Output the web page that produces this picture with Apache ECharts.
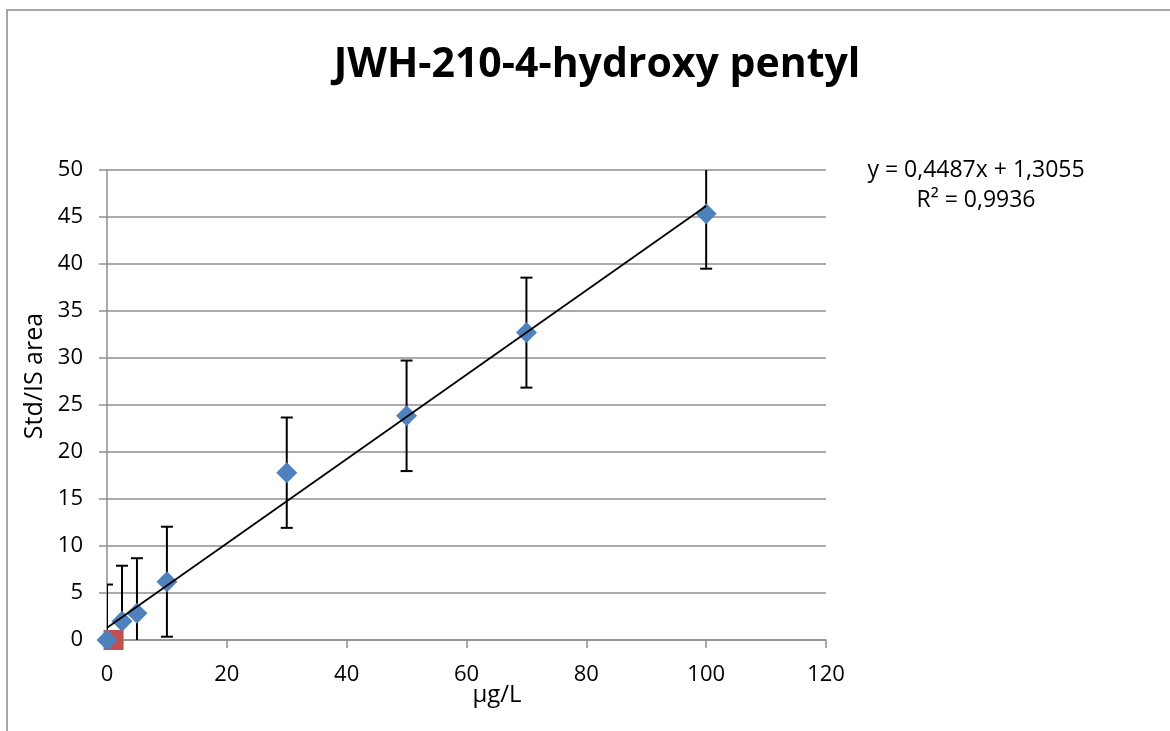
<!DOCTYPE html>
<html>
<head>
<meta charset="utf-8">
<title>JWH-210-4-hydroxy pentyl</title>
<script src="https://cdn.jsdelivr.net/npm/echarts@6/dist/echarts.min.js"></script>
<style>
  html, body { margin: 0; padding: 0; background: #fff; }
  #main { width: 1170px; height: 731px; }
</style>
</head>
<body>
<div id="main"></div>
<script>
  // concentration (µg/L) and Std/IS area ratio
  var concX = [0, 2.5, 5, 10, 30, 50, 70, 100];
  var ratioY = [0, 2.0, 2.85, 6.2, 17.8, 23.85, 32.7, 45.35];
  var errY = [5.9, 5.9, 5.85, 5.85, 5.87, 5.88, 5.85, 5.85];   // +/- error bar
  var blankPoint = [[1.1, 0]];                                  // red square
  // linear trendline endpoints (y = 0,4487x + 1,3055)
  var trendX = [0, 100];
  var trendY = [1.31, 46.18];
  var xTicks = [0, 20, 40, 60, 80, 100, 120];
  var yTicks = [0, 5, 10, 15, 20, 25, 30, 35, 40, 45, 50];

  var fontName = "'Open Sans', 'Liberation Sans', sans-serif";
  var gridColor = '#8f8f8f';

  var mainData = concX.map(function (x, i) { return [x, ratioY[i]]; });
  var errData = concX.map(function (x, i) { return [x, ratioY[i] - errY[i], ratioY[i] + errY[i]]; });
  var trendData = trendX.map(function (x, i) { return [x, trendY[i]]; });

  var chart = echarts.init(document.getElementById('main'));

  var option = {
    backgroundColor: '#fff',
    animation: false,
    title: {
      text: 'JWH-210-4-hydroxy pentyl',
      left: 592,
      top: 40,
      textAlign: 'center',
      textStyle: { color: '#000', fontSize: 41, fontWeight: 'bold', fontFamily: fontName }
    },
    grid: { left: 107, right: 344, top: 170, bottom: 91 },
    xAxis: {
      type: 'value',
      min: xTicks[0],
      max: xTicks[xTicks.length - 1],
      interval: 20,
      axisLine: { show: true, lineStyle: { color: gridColor, width: 1.5 } },
      axisTick: { show: true, length: 8, lineStyle: { color: gridColor, width: 1.5 } },
      axisLabel: { color: '#000', fontSize: 22, margin: 24, fontFamily: fontName },
      splitLine: { show: false }
    },
    yAxis: {
      type: 'value',
      min: yTicks[0],
      max: yTicks[yTicks.length - 1],
      interval: 5,
      axisLine: { show: true, lineStyle: { color: gridColor, width: 1.5 } },
      axisTick: { show: true, length: 8, lineStyle: { color: gridColor, width: 1.5 } },
      axisLabel: { color: '#000', fontSize: 22, margin: 24, fontFamily: fontName },
      splitLine: { show: true, lineStyle: { color: gridColor, width: 1.5 } }
    },
    graphic: [
      {
        type: 'rect',
        shape: { x: 7, y: 10, width: 1400, height: 1000 },
        style: { fill: 'none', stroke: '#8a8a8a', lineWidth: 1.5 },
        silent: true
      },
      {
        type: 'text',
        x: 35, y: 376,
        rotation: Math.PI / 2,
        style: {
          text: 'Std/IS area', fill: '#000', fontSize: 25, fontFamily: fontName,
          align: 'center', verticalAlign: 'middle'
        }
      },
      {
        type: 'text',
        x: 497, y: 695,
        style: {
          text: 'µg/L', fill: '#000', fontSize: 24, fontFamily: fontName,
          align: 'center', verticalAlign: 'middle'
        }
      },
      {
        type: 'text',
        x: 976, y: 170,
        style: {
          text: 'y = 0,4487x + 1,3055', fill: '#000', fontSize: 23, fontFamily: fontName,
          align: 'center', verticalAlign: 'middle'
        }
      },
      {
        type: 'text',
        x: 976, y: 200,
        style: {
          text: 'R² = 0,9936', fill: '#000', fontSize: 23, fontFamily: fontName,
          align: 'center', verticalAlign: 'middle'
        }
      }
    ],
    series: [
      {
        // error bars
        type: 'custom',
        clip: true,
        z: 1,
        data: errData,
        renderItem: function (params, api) {
          var x = api.value(0);
          var lo = api.coord([x, api.value(1)]);
          var hi = api.coord([x, api.value(2)]);
          var cap = 6;
          var style = { stroke: '#000', lineWidth: 2 };
          return {
            type: 'group',
            children: [
              { type: 'line', shape: { x1: lo[0], y1: lo[1], x2: hi[0], y2: hi[1] }, style: style },
              { type: 'line', shape: { x1: hi[0] - cap, y1: hi[1], x2: hi[0] + cap, y2: hi[1] }, style: style },
              { type: 'line', shape: { x1: lo[0] - cap, y1: lo[1], x2: lo[0] + cap, y2: lo[1] }, style: style }
            ]
          };
        }
      },
      {
        type: 'scatter',
        z: 2,
        symbol: 'rect',
        symbolSize: 20,
        itemStyle: { color: '#c0504d', opacity: 1 },
        data: blankPoint
      },
      {
        type: 'scatter',
        z: 3,
        symbol: 'diamond',
        symbolSize: [21, 21],
        itemStyle: { color: '#4f81bd', opacity: 1 },
        data: mainData
      },
      {
        type: 'line',
        z: 4,
        symbol: 'none',
        lineStyle: { color: '#000', width: 1.8 },
        data: trendData
      }
    ]
  };

  chart.setOption(option);
</script>
</body>
</html>
